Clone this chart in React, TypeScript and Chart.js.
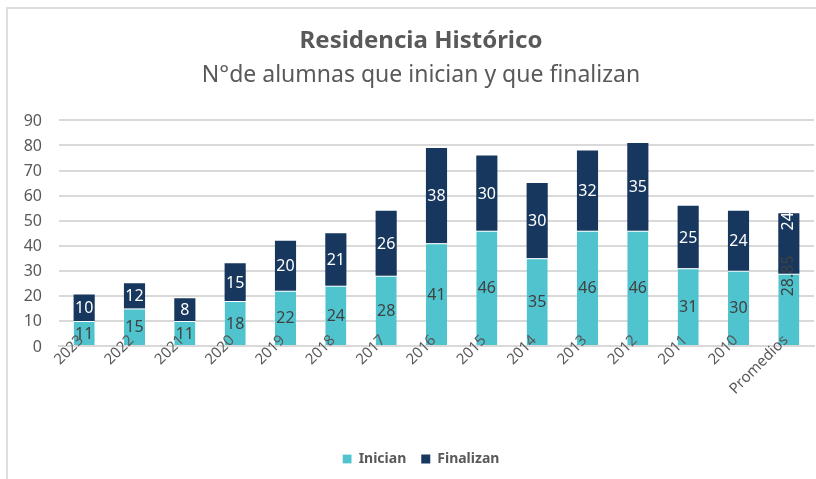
import React, { useEffect, useRef } from "react";
import { Chart, registerables } from "chart.js";

Chart.register(...registerables);

const categories = ["2023", "2022", "2021", "2020", "2019", "2018", "2017", "2016", "2015", "2014", "2013", "2012", "2011", "2010", "Promedios"];
const inicianValues = [10, 15, 10, 18, 22, 24, 28, 41, 46, 35, 46, 46, 31, 30, 28.85];
const finalizanValues = [10.5, 10, 9, 15, 20, 21, 26, 38, 30, 30, 32, 35, 25, 24, 24.07];
const inicianLabels = ["11", "15", "11", "18", "22", "24", "28", "41", "46", "35", "46", "46", "31", "30", "28.85"];
const finalizanLabels = ["10", "12", "8", "15", "20", "21", "26", "38", "30", "30", "32", "35", "25", "24", "24"];
const rotatedCategories = ["Promedios"];
const yMin = 0;
const yMax = 90;
const yStep = 10;

const FONT = "'Noto Sans', 'Open Sans', sans-serif";
const GRAY = "#595959";
const LIGHT = "#4FC4CF";
const DARK = "#17375E";

// Axis tick labels drawn from the chart's own scales (so that the rotated
// category labels may overlap the bars as in the original).
const axisLabels = {
  id: "axisLabels",
  afterDatasetsDraw(chart: any) {
    const ctx = chart.ctx;
    const xs = chart.scales.x;
    const ys = chart.scales.y;
    const area = chart.chartArea;
    ctx.save();
    ctx.fillStyle = GRAY;
    ctx.font = `16px ${FONT}`;
    ctx.textAlign = "right";
    ctx.textBaseline = "middle";
    ys.ticks.forEach((t: any) => {
      ctx.fillText(String(t.value), area.left - 17, ys.getPixelForValue(t.value) + 1);
    });
    ctx.font = `15px ${FONT}`;
    xs.getLabels().forEach((lab: string, i: number) => {
      const px = xs.getPixelForTick(i);
      ctx.save();
      ctx.translate(px - 3, area.bottom - 8);
      ctx.rotate(-Math.PI / 4);
      ctx.textAlign = "right";
      ctx.textBaseline = "middle";
      ctx.fillText(lab, 0, 0);
      ctx.restore();
    });
    ctx.restore();
  },
};

const segmentLabels = {
  id: "segmentLabels",
  afterDatasetsDraw(chart: any) {
    const ctx = chart.ctx;
    chart.data.datasets.forEach((ds: any, di: number) => {
      const meta = chart.getDatasetMeta(di);
      const texts = di === 0 ? inicianLabels : finalizanLabels;
      meta.data.forEach((el: any, i: number) => {
        const { x, y, base } = el.getProps(["x", "y", "base"], true);
        const cy = (y + base) / 2;
        ctx.save();
        ctx.fillStyle = di === 0 ? "#404040" : "#ffffff";
        ctx.font = `16px ${FONT}`;
        ctx.textBaseline = "middle";
        if (rotatedCategories.includes(categories[i])) {
          ctx.translate(x, cy - 13);
          ctx.rotate(-Math.PI / 2);
          ctx.textAlign = "left";
        } else {
          ctx.translate(x, cy + 1);
          ctx.textAlign = "center";
        }
        ctx.fillText(texts[i], 0, 0);
        ctx.restore();
      });
    });
  },
};

export default function App() {
  const ref = useRef<HTMLCanvasElement | null>(null);

  useEffect(() => {
    if (!ref.current) return;
    const chart = new Chart(ref.current, {
      type: "bar",
      data: {
        labels: categories,
        datasets: [
          {
            label: "Inician",
            data: inicianValues,
            backgroundColor: LIGHT,
            borderColor: "#ffffff",
            borderWidth: { top: 1, left: 0, right: 0, bottom: 0 },
            borderSkipped: false,
            barPercentage: 0.42,
            categoryPercentage: 1,
          },
          {
            label: "Finalizan",
            data: finalizanValues,
            backgroundColor: DARK,
            borderWidth: 0,
            barPercentage: 0.42,
            categoryPercentage: 1,
          },
        ],
      },
      options: {
        responsive: false,
        animation: false,
        layout: { padding: { left: 28, right: 2, top: 0, bottom: 3 } },
        scales: {
          x: {
            stacked: true,
            grid: { display: false, drawTicks: false },
            border: { display: true, color: "#d9d9d9", width: 2 },
            ticks: { display: false, autoSkip: false },
            afterFit: (s: any) => {
              s.height = 91;
            },
          },
          y: {
            stacked: true,
            min: yMin,
            max: yMax,
            grid: { color: "#d9d9d9", lineWidth: 2, drawTicks: false },
            border: { display: false },
            ticks: { stepSize: yStep, display: false },
            afterFit: (s: any) => {
              s.width = 31;
            },
          },
        },
        plugins: {
          title: {
            display: true,
            text: "Residencia Histórico",
            color: GRAY,
            font: { family: FONT, size: 24, weight: "bold" },
            padding: { top: 27, bottom: 0 },
          },
          subtitle: {
            display: true,
            text: "N°de alumnas que inician y que finalizan",
            color: GRAY,
            font: { family: FONT, size: 23, weight: "normal" },
            padding: { top: 6, bottom: 31 },
          },
          legend: {
            display: true,
            position: "bottom",
            labels: {
              color: GRAY,
              font: { family: FONT, size: 14, weight: "bold" },
              boxWidth: 9,
              boxHeight: 9,
              padding: 15,
            },
          },
          tooltip: { enabled: false },
        },
      },
      plugins: [axisLabels, segmentLabels],
    });
    return () => chart.destroy();
  }, []);

  return (
    <div style={{ position: "fixed", left: 0, top: 0, width: 816, height: 479, background: "#ffffff", overflow: "hidden" }}>
      <div
        style={{
          position: "absolute",
          left: 6,
          top: 7,
          width: 830,
          height: 490,
          borderLeft: "2px solid #dedede",
          borderTop: "2px solid #dedede",
        }}
      />
      <canvas ref={ref} width={816} height={479} style={{ position: "absolute", left: 0, top: 0 }} />
    </div>
  );
}
